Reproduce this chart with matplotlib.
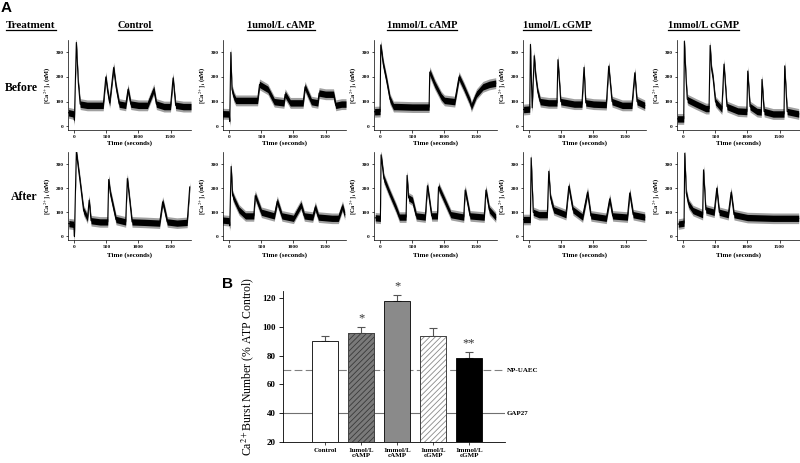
import numpy as np
import matplotlib
matplotlib.use("Agg")
import matplotlib.pyplot as plt
from matplotlib.lines import Line2D

OUT_FILE = "out.png"

plt.rcParams["font.family"] = ["Liberation Serif", "DejaVu Serif"]
plt.rcParams["mathtext.fontset"] = "stix"
plt.rcParams["hatch.linewidth"] = 0.6

# ---- panel A: hand-read calcium traces, (time s, [Ca2+]i nM) ----
CONDITIONS = ["Control", "1umol/L cAMP", "1mmol/L cAMP", "1umol/L cGMP", "1mmol/L cGMP"]

BEFORE_T = [
    [-92, -10, 0, 30, 60, 90, 200, 300, 450, 490, 520, 550, 612, 650, 700, 800, 837, 880,
     1000, 1140, 1240, 1280, 1400, 1500, 1540, 1580, 1700, 1820],
    [-124, -5, 5, 22, 40, 70, 100, 250, 440, 470, 600, 700, 850, 870, 950, 1150, 1180,
     1280, 1380, 1400, 1500, 1625, 1660, 1750, 1820],
    [-91, -5, 5, 43, 97, 150, 204, 250, 500, 760, 770, 850, 950, 1000, 1160, 1227, 1300,
     1400, 1420, 1500, 1600, 1700, 1800],
    [-91, 5, 16, 43, 75, 100, 130, 170, 300, 430, 445, 490, 700, 820, 852, 880, 1000, 1200,
     1238, 1290, 1450, 1600, 1645, 1680, 1800],
    [-93, 5, 15, 40, 60, 77, 200, 350, 400, 417, 440, 463, 500, 600, 633, 680, 850, 990,
     1004, 1040, 1150, 1215, 1226, 1260, 1400, 1570, 1581, 1620, 1800],
]
BEFORE_V = [
    [55, 50, 25, 340, 180, 90, 85, 85, 85, 200, 140, 95, 238, 160, 90, 85, 150, 90,
     85, 85, 150, 90, 80, 80, 196, 85, 80, 80],
    [51, 50, 20, 300, 150, 120, 105, 105, 105, 170, 150, 100, 95, 130, 95, 95, 160,
     100, 95, 135, 130, 130, 85, 90, 90],
    [59, 60, 330, 254, 186, 110, 80, 80, 78, 78, 220, 170, 120, 105, 100, 200, 160,
     100, 80, 130, 160, 170, 175],
    [68, 70, 332, 75, 286, 200, 140, 100, 95, 95, 270, 100, 90, 90, 239, 95, 90, 88,
     244, 100, 85, 85, 217, 100, 85],
    [30, 30, 345, 200, 110, 106, 90, 72, 72, 328, 230, 196, 100, 70, 252, 80, 62, 60,
     224, 80, 60, 58, 190, 60, 50, 50, 245, 60, 50],
]

AFTER_T = [
    [-87, -10, 0, 30, 92, 143, 204, 230, 260, 400, 520, 535, 560, 650, 800, 826, 900,
     1100, 1330, 1377, 1400, 1450, 1600, 1760, 1800],
    [-117, -5, 5, 27, 50, 80, 150, 250, 380, 403, 500, 700, 747, 820, 1000, 1118, 1170,
     1300, 1341, 1390, 1600, 1700, 1765, 1800],
    [-81, 0, 10, 54, 135, 243, 297, 400, 416, 440, 500, 560, 700, 734, 800, 890, 907, 1000,
     1100, 1300, 1323, 1400, 1620, 1647, 1700, 1800],
    [-97, 15, 27, 60, 150, 280, 302, 330, 380, 570, 615, 680, 830, 907, 960, 1200, 1253,
     1300, 1530, 1566, 1620, 1800],
    [-80, 10, 21, 45, 80, 150, 300, 314, 350, 480, 521, 560, 700, 745, 790, 1000, 1400, 1800],
]
AFTER_V = [
    [53, 50, 0, 350, 220, 108, 75, 150, 65, 60, 60, 236, 180, 70, 60, 240, 60,
     58, 55, 143, 120, 60, 55, 58, 205],
    [68, 65, 45, 290, 170, 150, 110, 85, 85, 169, 100, 85, 146, 85, 75, 131, 85,
     80, 122, 80, 75, 75, 125, 90],
    [77, 75, 338, 240, 185, 118, 80, 80, 253, 160, 150, 85, 80, 210, 85, 85, 205, 150,
     90, 80, 192, 85, 80, 192, 110, 80],
    [70, 70, 326, 100, 90, 90, 270, 160, 110, 90, 208, 110, 80, 183, 85, 75, 155,
     85, 80, 180, 90, 80],
    [51, 55, 345, 180, 135, 107, 90, 276, 110, 100, 200, 100, 90, 183, 90, 78, 75, 75],
]

# ---- panel B: bar chart ----
BAR_LABELS = ["Control", "1umol/L\ncAMP", "1mmol/L\ncAMP", "1umol/L\ncGMP", "1mmol/L\ncGMP"]
BAR_VALUES = [90.5, 95.5, 118, 94, 78.5]
BAR_ERRORS = [3.5, 4.5, 4, 5.5, 4]
BAR_STARS = ["", "*", "*", "", "**"]
NP_UAEC = 70
GAP27 = 40

W, H = 800, 463


def fig_rect(x0, y0, x1, y1):
    # pixel box (top-left origin) -> figure fraction
    return [x0 / W, 1 - y1 / H, (x1 - x0) / W, (y1 - y0) / H]


def trace_panel(fig, rect, t, v, label_y):
    ax = fig.add_axes(rect)
    t = np.asarray(t, float)
    v = np.asarray(v, float)
    ax.fill_between(t, v - 22, v + 22, color="#a0a0a0", lw=0)
    ax.fill_between(t, v - 13, v + 13, color="black", lw=0)
    ax.plot(t, v, color="black", lw=0.8)
    ax.set_xlim(-100, 1820)
    ax.set_ylim(-15, 350)
    ax.set_xticks([0, 500, 1000, 1500])
    ax.set_yticks([0, 100, 200, 300])
    ax.tick_params(labelsize=3.8, length=1.8, width=0.5, pad=1.5)
    for lab in ax.get_xticklabels() + ax.get_yticklabels():
        lab.set_fontweight("bold")
    for s in ["top", "right"]:
        ax.spines[s].set_visible(False)
    for s in ["left", "bottom"]:
        ax.spines[s].set_linewidth(0.5)
    ax.set_ylabel("[Ca$^{2+}$]$_\\mathbf{i}$ (nM)", fontsize=4.6, fontweight="bold", labelpad=2)
    fig.text(rect[0] + rect[2] / 2, 1 - label_y / H, "Time (seconds)", fontsize=5,
             fontweight="bold", ha="center", va="center")
    return ax


def main():
    fig = plt.figure(figsize=(W / 100, H / 100), dpi=100)

    lefts = [68, 223, 374, 523, 677]
    for i in range(5):
        trace_panel(fig, fig_rect(lefts[i], 40, lefts[i] + 123, 130), BEFORE_T[i], BEFORE_V[i], 143)
        trace_panel(fig, fig_rect(lefts[i], 152, lefts[i] + 123, 240), AFTER_T[i], AFTER_V[i], 255)

    fig.text(1 / W, 1 - 8 / H, "A", fontsize=11, fontweight="bold", family="Liberation Sans",
             ha="left", va="center")
    fig.text(228 / W, 1 - 284 / H, "B", fontsize=11, fontweight="bold", family="Liberation Sans",
             ha="center", va="center")

    headers = [("Treatment", 31)] + list(zip(CONDITIONS, [135, 281, 422, 557, 703]))
    head_texts = []
    for txt, x in headers:
        size = 8 if txt == "Treatment" else 7.5
        head_texts.append(fig.text(x / W, 1 - 25 / H, txt, fontsize=size, fontweight="bold",
                                   ha="center", va="center"))
    fig.text(21 / W, 1 - 88 / H, "Before", fontsize=8.5, fontweight="bold", ha="center", va="center")
    fig.text(24 / W, 1 - 197 / H, "After", fontsize=8.5, fontweight="bold", ha="center", va="center")

    # ---- bar chart ----
    axb = fig.add_axes(fig_rect(283, 291, 505, 442))
    x = np.arange(len(BAR_VALUES))
    faces = ["white", "#7a7a7a", "#8a8a8a", "white", "black"]
    hatches = [None, "//////", None, "//////", None]
    hcolors = ["black", "#3a3a3a", "black", "#8a8a8a", "black"]
    for i in range(len(x)):
        axb.errorbar(x[i], BAR_VALUES[i], yerr=[[0], [BAR_ERRORS[i]]], fmt="none",
                     ecolor="#555555", elinewidth=0.8, capsize=3, capthick=0.8, zorder=1)
        axb.bar(x[i], BAR_VALUES[i], width=0.72, bottom=0, color=faces[i],
                edgecolor=hcolors[i], hatch=hatches[i], lw=0.6, zorder=2)
        if hatches[i]:
            axb.bar(x[i], BAR_VALUES[i], width=0.72, color="none", edgecolor="#444444",
                    lw=0.7, zorder=3)
        if BAR_STARS[i]:
            axb.text(x[i], BAR_VALUES[i] + BAR_ERRORS[i] + 2, BAR_STARS[i], ha="center",
                     va="bottom", fontsize=9, color="#333333", clip_on=False)
    axb.axhline(NP_UAEC, color="#808080", lw=0.8, ls=(0, (7, 3)), zorder=0)
    axb.axhline(GAP27, color="#707070", lw=0.8, zorder=0)
    axb.text(5.05, NP_UAEC, "NP-UAEC", fontsize=5, fontweight="bold", va="center", ha="left")
    axb.text(5.05, GAP27, "GAP27", fontsize=5, fontweight="bold", va="center", ha="left")
    axb.set_xlim(-1.17, 5.0)
    axb.set_ylim(20, 125)
    axb.set_yticks([20, 40, 60, 80, 100, 120])
    axb.set_xticks(x)
    axb.set_xticklabels(BAR_LABELS, fontsize=5, fontweight="bold", linespacing=1.0)
    axb.tick_params(axis="y", labelsize=6.5, length=3, width=0.6, pad=2)
    axb.tick_params(axis="x", length=2, width=0.5, pad=2)
    for lab in axb.get_yticklabels():
        lab.set_fontweight("bold")
    for s in ["top", "right"]:
        axb.spines[s].set_visible(False)
    for s in ["left", "bottom"]:
        axb.spines[s].set_linewidth(0.6)
    axb.set_ylabel("Ca$^{2+}$Burst Number (% ATP Control)", fontsize=8.5, labelpad=5)

    # underline headers
    fig.canvas.draw()
    r = fig.canvas.get_renderer()
    inv = fig.transFigure.inverted()
    for t in head_texts:
        bb = t.get_window_extent(r).transformed(inv)
        fig.add_artist(Line2D([bb.x0, bb.x1], [bb.y0 - 0.002, bb.y0 - 0.002],
                              transform=fig.transFigure, color="black", lw=0.9))

    fig.savefig(OUT_FILE, dpi=100)


if __name__ == "__main__":
    main()
